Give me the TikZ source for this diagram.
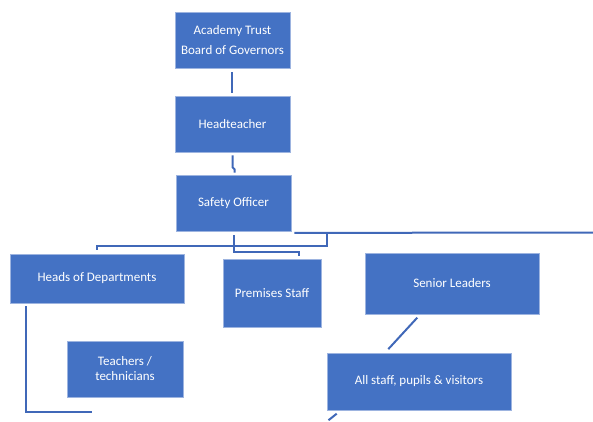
\documentclass[tikz,border=0pt]{standalone}
\usepackage{fontspec}
\setmainfont{Carlito}
\definecolor{boxblue}{HTML}{4472C4}
\definecolor{boxedge}{HTML}{9DB4E0}
\definecolor{linkblue}{HTML}{4068B8}
\begin{document}
\begin{tikzpicture}[x=1pt,y=-1pt,
  orgbox/.style={draw=boxedge, line width=0.8pt, fill=boxblue, text=white, align=center,
    font=\fontsize{13}{20}\selectfont, inner sep=0pt, anchor=center},
  link/.style={draw=linkblue, line width=2pt}]
\useasboundingbox (0,0) rectangle (593,421);
\clip (0,0) rectangle (593,421);
\node[orgbox, minimum width=115, minimum height=56] (acad) at (232.5,40) {Academy Trust\\Board of Governors};
\node[orgbox, minimum width=115, minimum height=56] (head) at (232.5,124) {Headteacher};
\node[orgbox, minimum width=115, minimum height=56] (safety) at (233.5,203) {Safety Officer};
\node[orgbox, minimum width=174, minimum height=49] (hod) at (97,278.5) {Heads of Departments};
\node[orgbox, minimum width=98, minimum height=68] (prem) at (272,293) {Premises Staff};
\node[orgbox, minimum width=174, minimum height=61] (senior) at (452,283.5) {Senior Leaders};
\node[orgbox, minimum width=116, minimum height=56, font=\fontsize{13}{15}\selectfont] (teach) at (125,369) {Teachers /\\technicians};
\node[orgbox, minimum width=184, minimum height=57] (all) at (419,381.5) {All staff, pupils \& visitors};
% connectors
\draw[link] ([xshift=-0.2pt,yshift=-4pt]acad.south) -- ([xshift=-0.2pt,yshift=3pt]head.north);
\draw[link] ([xshift=0.2pt,yshift=-3pt]head.south) -- ++(0,12) -- ++(2,2) |- ([xshift=1.2pt,yshift=2pt]safety.north);
\coordinate (rightend) at (593,232.5);
\draw[link] ([xshift=3pt,yshift=-1.5pt]safety.south east) -- (rightend);
\draw[link] (326.7,232.5) -- (326.7,245.5) -| ([yshift=4pt]hod.north);
\draw[link] ([yshift=-4pt]safety.south) |- (299,252) -- ([xshift=27pt,yshift=3pt]prem.north);
\draw[link] ([xshift=16pt,yshift=-3pt]hod.south west) |- ([xshift=25pt,yshift=-15pt]teach.south west);
\draw[link] ([xshift=-34.7pt,yshift=-3.2pt]senior.south) -- ([xshift=-30.7pt,yshift=3.5pt]all.north);
\coordinate (bottomend) at (329.3,421);
\draw[link] ([xshift=-82.3pt,yshift=-3.3pt]all.south) -- ([xshift=-0.8pt,yshift=0.8pt]bottomend);
\end{tikzpicture}
\end{document}
